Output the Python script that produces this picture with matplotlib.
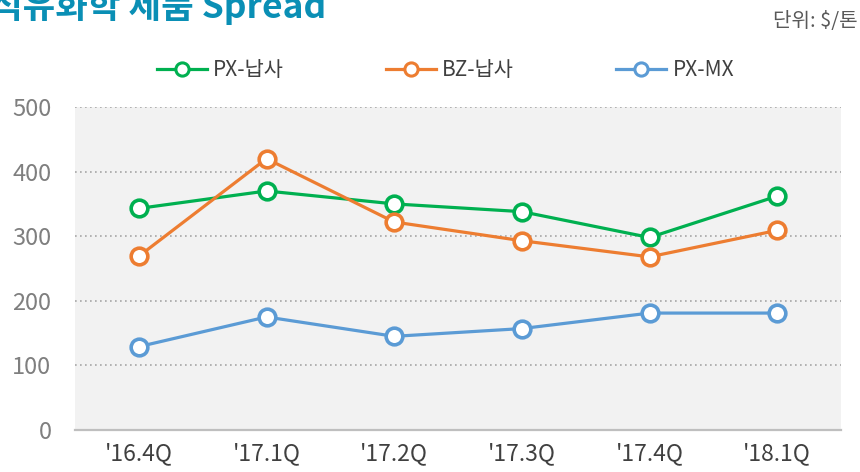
import matplotlib
matplotlib.use('Agg')
import matplotlib.pyplot as plt
from matplotlib.lines import Line2D

plt.rcParams['font.family'] = ['Noto Sans CJK KR', 'DejaVu Sans']

# data ($/톤)
quarters = ["'16.4Q", "'17.1Q", "'17.2Q", "'17.3Q", "'17.4Q", "'18.1Q"]
px_naphtha = [343, 370, 350, 338, 298, 362]
bz_naphtha = [269, 420, 322, 293, 268, 309]
px_mx = [129, 175, 145, 157, 181, 181]

series_names = ['PX-납사', 'BZ-납사', 'PX-MX']
colors = ['#00b050', '#ed7d31', '#5b9bd5']
y_ticks = [0, 100, 200, 300, 400, 500]

fig = plt.figure(figsize=(8.6, 4.72), dpi=100)
ax = fig.add_axes([75 / 860, 42 / 472, 766 / 860, 323 / 472])
ax.set_facecolor('#f2f2f2')

x = list(range(len(quarters)))
for vals, col in zip([px_naphtha, bz_naphtha, px_mx], colors):
    ax.plot(x, vals, color=col, lw=2.3, marker='o', ms=12,
            mfc='white', mec=col, mew=2.6, zorder=3)

ax.set_xlim(-0.5, len(quarters) - 0.5)
ax.set_ylim(0, 500)
ax.set_yticks(y_ticks)
ax.set_xticks(x)
ax.set_xticklabels(quarters)

ax.grid(axis='y', color='#a6a6a6', ls=(0, (1, 2)), lw=1.2)
ax.set_axisbelow(True)
for s in ['top', 'right', 'left']:
    ax.spines[s].set_visible(False)
ax.spines['bottom'].set_color('#bfbfbf')
ax.spines['bottom'].set_linewidth(1.6)
ax.spines['bottom'].set_zorder(4)

ax.tick_params(axis='y', length=0, pad=17, labelsize=17, labelcolor='#7f7f7f')
ax.tick_params(axis='x', length=0, pad=9, labelsize=16.5, labelcolor='#404040')

# legend
handles = [Line2D([], [], color=c, lw=2.3, marker='o', ms=9.5, mfc='white',
                  mec=c, mew=2.2) for c in colors]
fig.legend(handles, series_names, loc='center left',
           bbox_to_anchor=(138 / 860, 1 - 70 / 472), ncol=3, frameon=False,
           fontsize=15, labelcolor='#404040', handlelength=2.4,
           handletextpad=0.3, columnspacing=4.9)

# title and unit
fig.text(326 / 860, 1 - 18 / 472, '석유화학 제품 Spread', ha='right',
         va='baseline', fontsize=25.5, fontweight='bold', color='#0a8fb5')
fig.text(0.997, 1 - 27 / 472, '단위: $/톤', ha='right', va='baseline',
         fontsize=14.5, color='#595959')

fig.savefig('out.png', dpi=100)
